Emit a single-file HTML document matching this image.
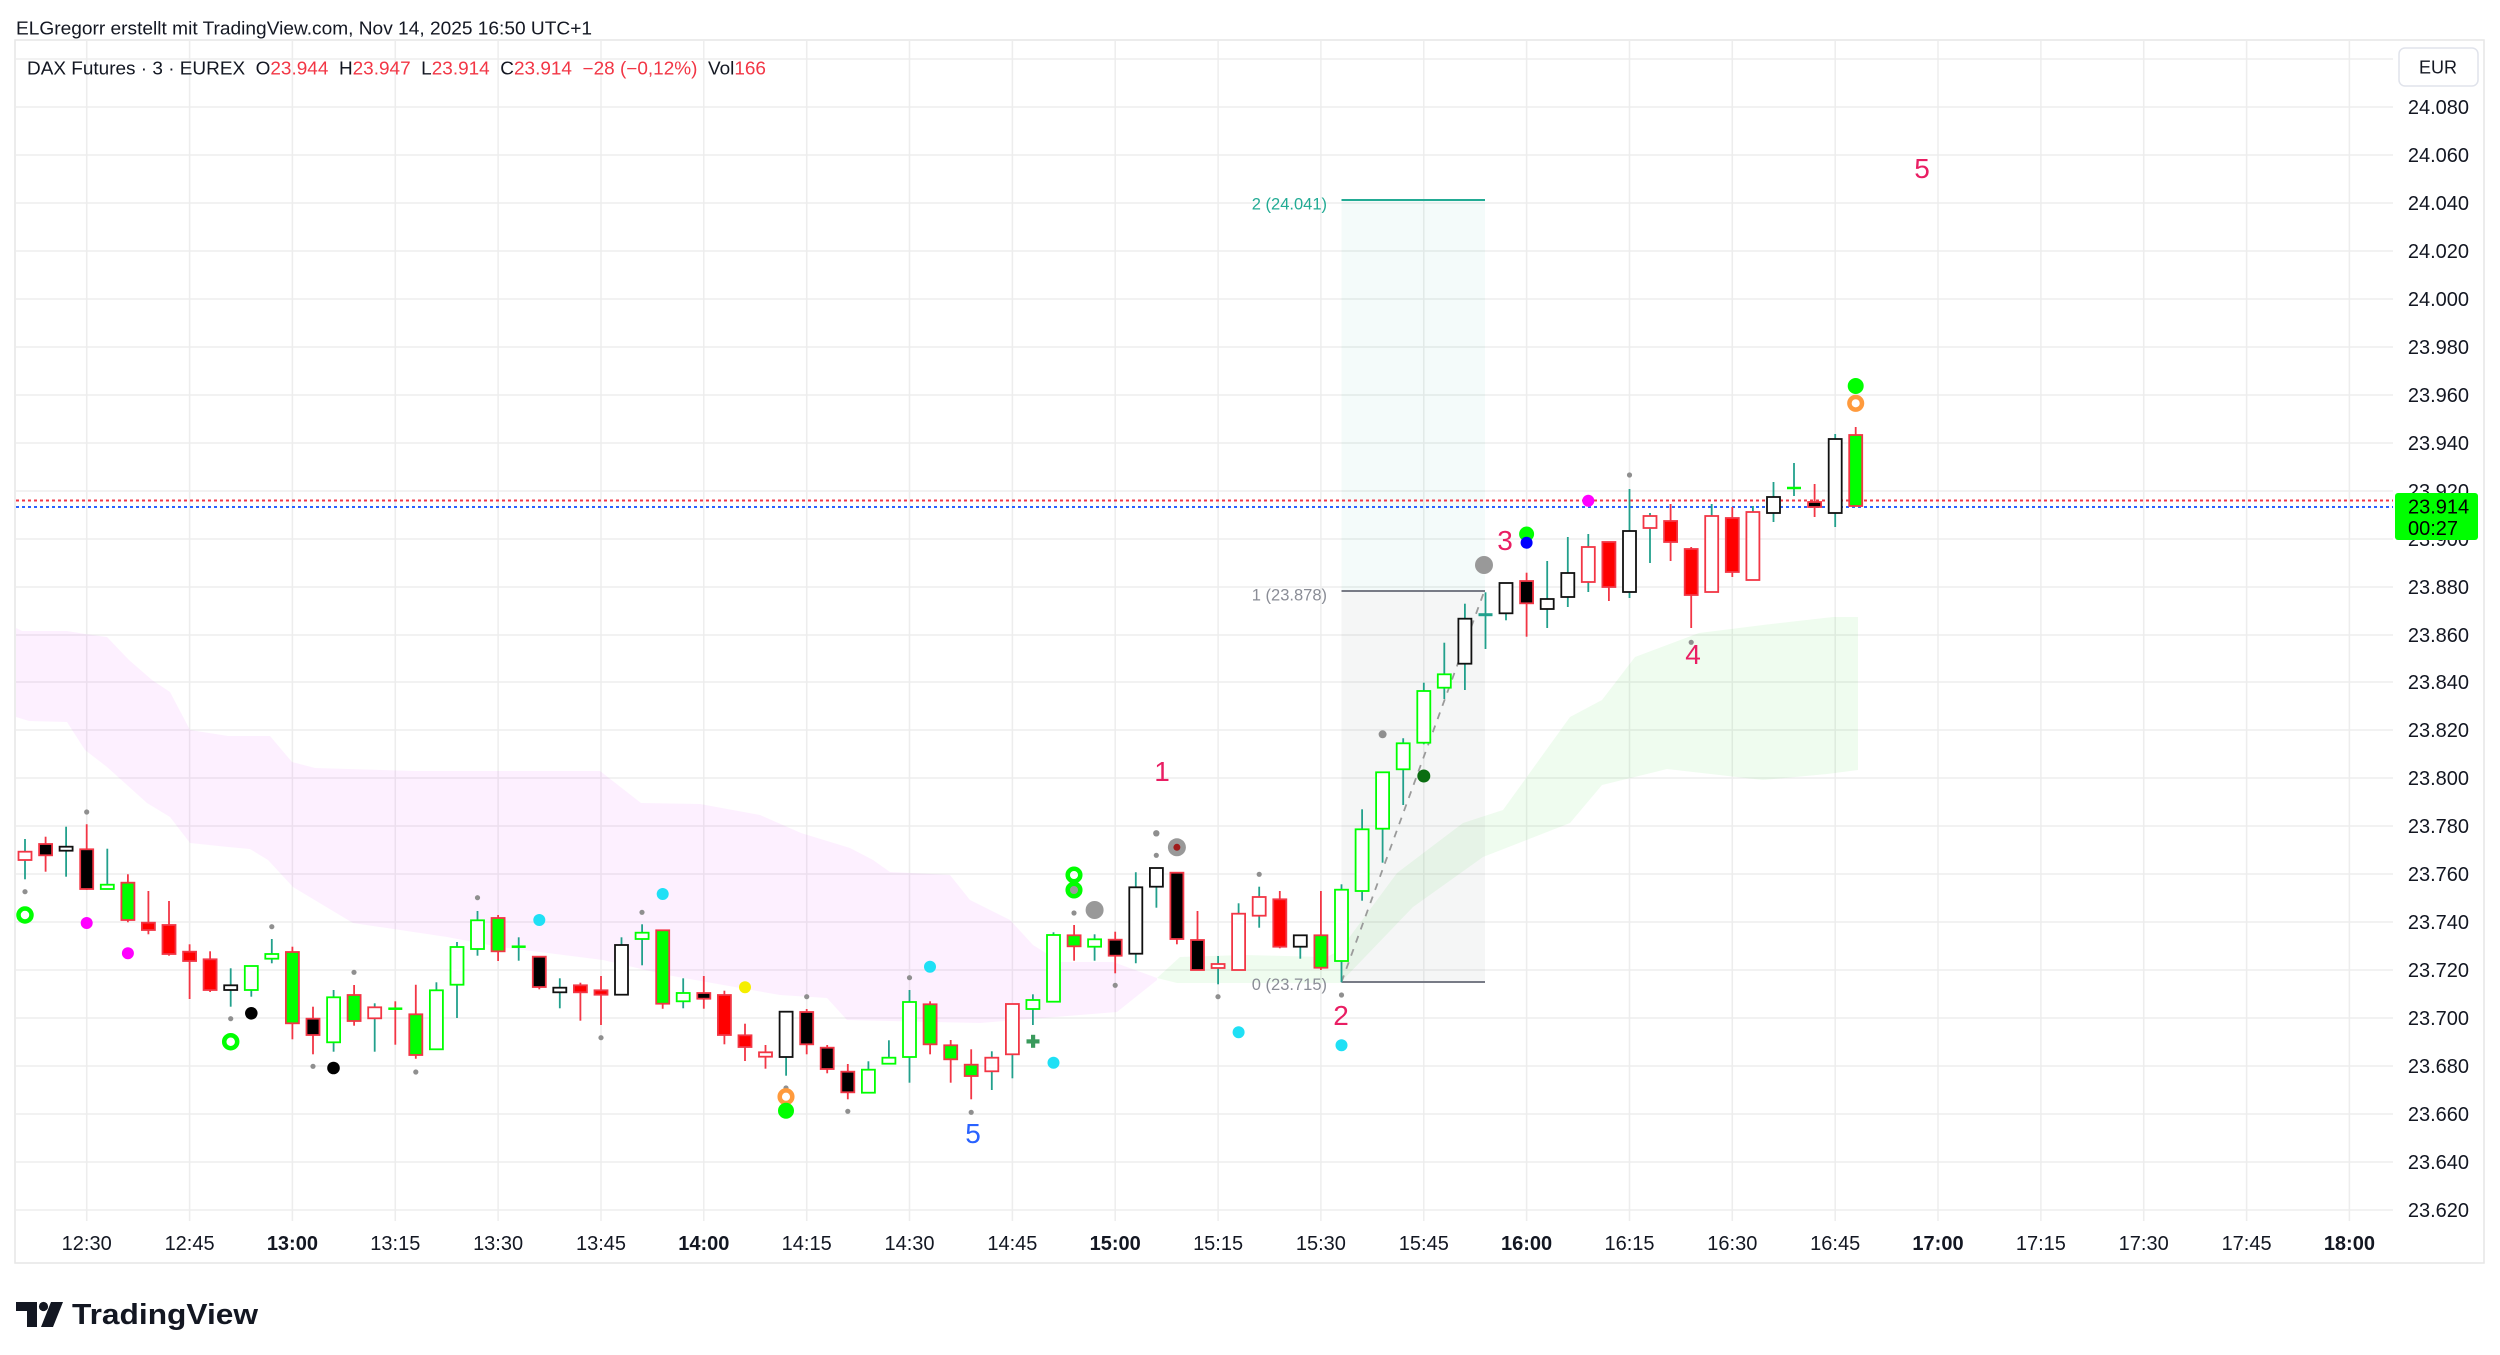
<!DOCTYPE html>
<html><head><meta charset="utf-8"><style>
html,body{margin:0;padding:0;background:#fff;overflow:hidden}
svg{display:block}
text{font-family:"Liberation Sans",Arial,sans-serif}
.g{stroke:#ededed;stroke-width:1.5}
.wt{stroke:#22a08c;stroke-width:1.8}
.wr{stroke:#f23645;stroke-width:1.8}
.wR{fill:#fff;stroke:#f23645;stroke-width:1.8}
.bR{fill:#000;stroke:#f23645;stroke-width:1.8}
.wK{fill:#fff;stroke:#111;stroke-width:1.8}
.gR{fill:#00ff00;stroke:#f23645;stroke-width:1.8}
.wG{fill:#fff;stroke:#00ff00;stroke-width:1.8}
.rR{fill:#ff0000;stroke:#f23645;stroke-width:1.8}
.dj{stroke:#00ff00;stroke-width:2.5}
.gd{fill:#8f8f8f}
.pl{fill:#131722;font-size:20px}
.tl{fill:#131722;font-size:20px;text-anchor:middle}
.tb{font-weight:bold}
.num{font-size:28px;fill:#e91e63;text-anchor:middle}
</style></head><body>
<svg width="2500" height="1355" viewBox="0 0 2500 1355" xmlns="http://www.w3.org/2000/svg">
<defs><clipPath id="pc"><rect x="16" y="41" width="2377" height="1180"/></clipPath></defs>
<rect width="2500" height="1355" fill="#fff"/>
<text x="16" y="34.5" font-size="18" fill="#131722" textLength="576" lengthAdjust="spacingAndGlyphs">ELGregorr erstellt mit TradingView.com, Nov 14, 2025 16:50 UTC+1</text>
<rect x="15" y="40" width="2469" height="1223" fill="none" stroke="#e6e6e6" stroke-width="1.5"/>

<!-- grid -->
<g class="g">
<line x1="16" x2="2393" y1="59" y2="59"/>
<line x1="16" x2="2393" y1="107" y2="107"/><line x1="16" x2="2393" y1="155" y2="155"/><line x1="16" x2="2393" y1="203" y2="203"/><line x1="16" x2="2393" y1="251" y2="251"/><line x1="16" x2="2393" y1="299" y2="299"/><line x1="16" x2="2393" y1="347" y2="347"/><line x1="16" x2="2393" y1="395" y2="395"/><line x1="16" x2="2393" y1="443" y2="443"/><line x1="16" x2="2393" y1="491" y2="491"/><line x1="16" x2="2393" y1="539" y2="539"/><line x1="16" x2="2393" y1="587" y2="587"/><line x1="16" x2="2393" y1="635" y2="635"/><line x1="16" x2="2393" y1="682" y2="682"/><line x1="16" x2="2393" y1="730" y2="730"/><line x1="16" x2="2393" y1="778" y2="778"/><line x1="16" x2="2393" y1="826" y2="826"/><line x1="16" x2="2393" y1="874" y2="874"/><line x1="16" x2="2393" y1="922" y2="922"/><line x1="16" x2="2393" y1="970" y2="970"/><line x1="16" x2="2393" y1="1018" y2="1018"/><line x1="16" x2="2393" y1="1066" y2="1066"/><line x1="16" x2="2393" y1="1114" y2="1114"/><line x1="16" x2="2393" y1="1162" y2="1162"/><line x1="16" x2="2393" y1="1210" y2="1210"/>
<line x1="86.7" x2="86.7" y1="41" y2="1221"/><line x1="189.6" x2="189.6" y1="41" y2="1221"/><line x1="292.4" x2="292.4" y1="41" y2="1221"/><line x1="395.3" x2="395.3" y1="41" y2="1221"/><line x1="498.1" x2="498.1" y1="41" y2="1221"/><line x1="601" x2="601" y1="41" y2="1221"/><line x1="703.8" x2="703.8" y1="41" y2="1221"/><line x1="806.7" x2="806.7" y1="41" y2="1221"/><line x1="909.5" x2="909.5" y1="41" y2="1221"/><line x1="1012.4" x2="1012.4" y1="41" y2="1221"/><line x1="1115.2" x2="1115.2" y1="41" y2="1221"/><line x1="1218.1" x2="1218.1" y1="41" y2="1221"/><line x1="1320.9" x2="1320.9" y1="41" y2="1221"/><line x1="1423.8" x2="1423.8" y1="41" y2="1221"/><line x1="1526.6" x2="1526.6" y1="41" y2="1221"/><line x1="1629.5" x2="1629.5" y1="41" y2="1221"/><line x1="1732.3" x2="1732.3" y1="41" y2="1221"/><line x1="1835.2" x2="1835.2" y1="41" y2="1221"/><line x1="1938" x2="1938" y1="41" y2="1221"/><line x1="2040.9" x2="2040.9" y1="41" y2="1221"/><line x1="2143.7" x2="2143.7" y1="41" y2="1221"/><line x1="2246.6" x2="2246.6" y1="41" y2="1221"/><line x1="2349.4" x2="2349.4" y1="41" y2="1221"/>
</g>

<g clip-path="url(#pc)">
<!-- clouds -->
<polygon fill="#e040fb" fill-opacity="0.08" points="16,628 22,631 67,631 85,634 107,637 129,660 152,680 170,692 190,730 228,736 270,736 292,762 315,768 415,771 600,771 641,803 700,804 760,815 801,833 850,848 873,860 890,872 950,875 970,900 1010,920 1033,945 1060,962 1113,962 1157,978 1157,980 1117,1012 980,1023 847,1020 827,998 780,995 667,975 603,960 500,947 447,937 353,923 293,887 268,860 250,849 228,847 190,843 170,817 147,803 107,767 85,750 67,722 29,721 16,717"/>
<polygon fill="#22dd22" fill-opacity="0.075" points="1157,978 1180,957 1243,955 1327,957 1340,950 1397,873 1463,823 1503,810 1570,717 1602,700 1635,657 1699,633 1763,625 1833,617 1858,617 1858,770 1827,774 1763,780 1667,769 1602,785 1570,823 1483,857 1413,907 1340,983 1177,983"/>
<!-- position box -->
<rect x="1341.5" y="200" width="143.5" height="391" fill="#22ab94" fill-opacity="0.05"/>
<rect x="1341.5" y="591" width="143.5" height="391" fill="#787b86" fill-opacity="0.07"/>
<line x1="1341.5" x2="1485" y1="200" y2="200" stroke="#22ab94" stroke-width="2"/>
<line x1="1341.5" x2="1485" y1="591" y2="591" stroke="#787b86" stroke-width="2"/>
<line x1="1341.5" x2="1485" y1="982" y2="982" stroke="#787b86" stroke-width="2"/>
<line x1="1341.5" y1="982" x2="1484" y2="592" stroke="#9a9a9a" stroke-width="1.8" stroke-dasharray="7 7"/>
<text x="1327" y="209.5" font-size="16.5" fill="#22ab94" text-anchor="end">2 (24.041)</text>
<text x="1327" y="600.5" font-size="16.5" fill="#8a8d96" text-anchor="end">1 (23.878)</text>
<text x="1327" y="990" font-size="16.5" fill="#8a8d96" text-anchor="end">0 (23.715)</text>

<!-- price lines -->
<line x1="16" x2="2393" y1="500.5" y2="500.5" stroke="#f23645" stroke-width="2" stroke-dasharray="3 3"/>
<line x1="16" x2="2393" y1="507" y2="507" stroke="#2962ff" stroke-width="2" stroke-dasharray="3 3"/>

<!-- wicks -->
<line class="wt" x1="25" x2="25" y1="839" y2="879.3"/>
<line class="wr" x1="45.6" x2="45.6" y1="836.7" y2="871.7"/>
<line class="wt" x1="66.1" x2="66.1" y1="826.7" y2="876.7"/>
<line class="wr" x1="86.7" x2="86.7" y1="824.3" y2="890"/>
<line class="wt" x1="107.3" x2="107.3" y1="848.7" y2="889"/>
<line class="wr" x1="127.9" x2="127.9" y1="874.3" y2="922.3"/>
<line class="wr" x1="148.4" x2="148.4" y1="891" y2="934.3"/>
<line class="wr" x1="169" x2="169" y1="901" y2="955.7"/>
<line class="wr" x1="189.6" x2="189.6" y1="944.3" y2="999"/>
<line class="wr" x1="210.1" x2="210.1" y1="951.3" y2="992"/>
<line class="wt" x1="230.7" x2="230.7" y1="968.3" y2="1006.7"/>
<line class="wt" x1="251.3" x2="251.3" y1="966" y2="996.7"/>
<line class="wt" x1="271.8" x2="271.8" y1="939" y2="963.3"/>
<line class="wr" x1="292.4" x2="292.4" y1="946.7" y2="1039.3"/>
<line class="wr" x1="313" x2="313" y1="1006.7" y2="1054.3"/>
<line class="wt" x1="333.6" x2="333.6" y1="990" y2="1051.7"/>
<line class="wr" x1="354.1" x2="354.1" y1="985" y2="1025.7"/>
<line class="wt" x1="374.7" x2="374.7" y1="1003.3" y2="1051.7"/>
<line class="wr" x1="395.3" x2="395.3" y1="1001.3" y2="1044.7"/>
<line class="wr" x1="415.8" x2="415.8" y1="984.7" y2="1058.7"/>
<line class="wt" x1="436.4" x2="436.4" y1="982.3" y2="1049.3"/>
<line class="wt" x1="457" x2="457" y1="942" y2="1018"/>
<line class="wt" x1="477.5" x2="477.5" y1="911" y2="955.7"/>
<line class="wr" x1="498.1" x2="498.1" y1="915" y2="961"/>
<line class="wt" x1="518.7" x2="518.7" y1="937.3" y2="960.7"/>
<line class="wr" x1="539.3" x2="539.3" y1="956.7" y2="989.3"/>
<line class="wt" x1="559.8" x2="559.8" y1="978.3" y2="1008.3"/>
<line class="wr" x1="580.4" x2="580.4" y1="982.7" y2="1020.7"/>
<line class="wr" x1="601" x2="601" y1="976" y2="1025"/>
<line class="wt" x1="621.5" x2="621.5" y1="937.3" y2="994.7"/>
<line class="wt" x1="642.1" x2="642.1" y1="924.3" y2="965.3"/>
<line class="wr" x1="662.7" x2="662.7" y1="930.3" y2="1008.7"/>
<line class="wt" x1="683.2" x2="683.2" y1="978.3" y2="1008.3"/>
<line class="wr" x1="703.8" x2="703.8" y1="976" y2="1008.7"/>
<line class="wr" x1="724.4" x2="724.4" y1="990.7" y2="1044.3"/>
<line class="wr" x1="745" x2="745" y1="1023.7" y2="1061"/>
<line class="wr" x1="765.5" x2="765.5" y1="1045" y2="1068.7"/>
<line class="wt" x1="786.1" x2="786.1" y1="1011.7" y2="1075.7"/>
<line class="wr" x1="806.7" x2="806.7" y1="1009" y2="1054.3"/>
<line class="wr" x1="827.2" x2="827.2" y1="1045" y2="1073.3"/>
<line class="wr" x1="847.8" x2="847.8" y1="1064" y2="1099.3"/>
<line class="wt" x1="868.4" x2="868.4" y1="1061.3" y2="1092.7"/>
<line class="wt" x1="888.9" x2="888.9" y1="1040.3" y2="1063.7"/>
<line class="wt" x1="909.5" x2="909.5" y1="990" y2="1082.7"/>
<line class="wr" x1="930.1" x2="930.1" y1="1001.3" y2="1054.3"/>
<line class="wr" x1="950.7" x2="950.7" y1="1040" y2="1082.7"/>
<line class="wr" x1="971.2" x2="971.2" y1="1049.3" y2="1099.3"/>
<line class="wt" x1="991.8" x2="991.8" y1="1051.3" y2="1090"/>
<line class="wt" x1="1012.4" x2="1012.4" y1="1004" y2="1078.3"/>
<line class="wt" x1="1032.9" x2="1032.9" y1="994.3" y2="1025"/>
<line class="wt" x1="1053.5" x2="1053.5" y1="932.3" y2="1001.7"/>
<line class="wr" x1="1074.1" x2="1074.1" y1="925" y2="960.7"/>
<line class="wt" x1="1094.6" x2="1094.6" y1="934.3" y2="960.7"/>
<line class="wr" x1="1115.2" x2="1115.2" y1="931.7" y2="973.3"/>
<line class="wt" x1="1135.8" x2="1135.8" y1="872.3" y2="963.3"/>
<line class="wt" x1="1156.4" x2="1156.4" y1="868" y2="907.7"/>
<line class="wr" x1="1176.9" x2="1176.9" y1="872.7" y2="944.3"/>
<line class="wr" x1="1197.5" x2="1197.5" y1="911" y2="970"/>
<line class="wt" x1="1218.1" x2="1218.1" y1="956" y2="984.3"/>
<line class="wt" x1="1238.6" x2="1238.6" y1="903.3" y2="970"/>
<line class="wt" x1="1259.2" x2="1259.2" y1="886.7" y2="927.7"/>
<line class="wr" x1="1279.8" x2="1279.8" y1="891" y2="948.3"/>
<line class="wt" x1="1300.3" x2="1300.3" y1="935.3" y2="958.7"/>
<line class="wr" x1="1320.9" x2="1320.9" y1="891" y2="970"/>
<line class="wt" x1="1341.5" x2="1341.5" y1="884.3" y2="982.3"/>
<line class="wt" x1="1362.1" x2="1362.1" y1="809.3" y2="900.7"/>
<line class="wt" x1="1382.6" x2="1382.6" y1="772.3" y2="862.7"/>
<line class="wt" x1="1403.2" x2="1403.2" y1="738.3" y2="805"/>
<line class="wt" x1="1423.8" x2="1423.8" y1="682.7" y2="744.3"/>
<line class="wt" x1="1444.3" x2="1444.3" y1="642.7" y2="699"/>
<line class="wt" x1="1464.9" x2="1464.9" y1="603.7" y2="690"/>
<line class="wt" x1="1485.5" x2="1485.5" y1="592.3" y2="649"/>
<line class="wt" x1="1506" x2="1506" y1="583" y2="620.3"/>
<line class="wr" x1="1526.6" x2="1526.6" y1="572.7" y2="636.7"/>
<line class="wt" x1="1547.2" x2="1547.2" y1="561" y2="628"/>
<line class="wt" x1="1567.8" x2="1567.8" y1="537" y2="607"/>
<line class="wt" x1="1588.3" x2="1588.3" y1="534" y2="592"/>
<line class="wr" x1="1608.9" x2="1608.9" y1="542" y2="601"/>
<line class="wt" x1="1629.5" x2="1629.5" y1="489" y2="598"/>
<line class="wt" x1="1650" x2="1650" y1="513" y2="563"/>
<line class="wr" x1="1670.6" x2="1670.6" y1="504" y2="561"/>
<line class="wr" x1="1691.2" x2="1691.2" y1="547" y2="628"/>
<line class="wt" x1="1711.7" x2="1711.7" y1="504" y2="592"/>
<line class="wr" x1="1732.3" x2="1732.3" y1="507" y2="577"/>
<line class="wt" x1="1752.9" x2="1752.9" y1="506" y2="580"/>
<line class="wt" x1="1773.5" x2="1773.5" y1="482" y2="522"/>
<line class="wt" x1="1794" x2="1794" y1="463" y2="496"/>
<line class="wr" x1="1814.6" x2="1814.6" y1="484" y2="517"/>
<line class="wt" x1="1835.2" x2="1835.2" y1="434" y2="527"/>
<line class="wr" x1="1855.7" x2="1855.7" y1="427" y2="506"/>

<!-- bodies -->
<rect class="wR" x="18.5" y="851.7" width="13" height="8.3"/>
<rect class="bR" x="39.1" y="844" width="13" height="11.3"/>
<rect class="wK" x="59.6" y="846.7" width="13" height="4"/>
<rect class="bR" x="80.2" y="849.3" width="13" height="39.7"/>
<rect class="wG" x="100.8" y="884.7" width="13" height="4.3"/>
<rect class="gR" x="121.4" y="882.7" width="13" height="37.3"/>
<rect class="rR" x="141.9" y="922.7" width="13" height="7.3"/>
<rect class="rR" x="162.5" y="925" width="13" height="29"/>
<rect class="rR" x="183.1" y="951.7" width="13" height="9.3"/>
<rect class="rR" x="203.6" y="959.3" width="13" height="30.7"/>
<rect class="wK" x="224.2" y="985.3" width="13" height="4.7"/>
<rect class="wG" x="244.8" y="966" width="13" height="24"/>
<rect class="wG" x="265.3" y="954" width="13" height="4.7"/>
<rect class="gR" x="285.9" y="952" width="13" height="71.3"/>
<rect class="bR" x="306.5" y="1018.7" width="13" height="16.3"/>
<rect class="wG" x="327.1" y="997.3" width="13" height="45"/>
<rect class="gR" x="347.6" y="995" width="13" height="26"/>
<rect class="wR" x="368.2" y="1007.3" width="13" height="11"/>
<line class="dj" x1="388.3" x2="402.3" y1="1008.7" y2="1008.7"/>
<rect class="gR" x="409.3" y="1014.3" width="13" height="40.7"/>
<rect class="wG" x="429.9" y="990.3" width="13" height="59"/>
<rect class="wG" x="450.5" y="947" width="13" height="37.7"/>
<rect class="wG" x="471" y="920.3" width="13" height="28.7"/>
<rect class="gR" x="491.6" y="918" width="13" height="33.3"/>
<line class="dj" x1="511.7" x2="525.7" y1="946.7" y2="946.7"/>
<rect class="bR" x="532.8" y="956.7" width="13" height="30.3"/>
<rect class="wK" x="553.3" y="987.7" width="13" height="4.6"/>
<rect class="rR" x="573.9" y="985.3" width="13" height="7"/>
<rect class="rR" x="594.5" y="990.3" width="13" height="4.4"/>
<rect class="wK" x="615" y="945" width="13" height="49.7"/>
<rect class="wG" x="635.6" y="932.7" width="13" height="6.3"/>
<rect class="gR" x="656.2" y="930.3" width="13" height="73.4"/>
<rect class="wG" x="676.7" y="993" width="13" height="8.3"/>
<rect class="bR" x="697.3" y="993" width="13" height="5.7"/>
<rect class="rR" x="717.9" y="995" width="13" height="40"/>
<rect class="rR" x="738.5" y="1035.3" width="13" height="11.7"/>
<rect class="wR" x="759" y="1052.3" width="13" height="4.4"/>
<rect class="wK" x="779.6" y="1011.7" width="13" height="45.3"/>
<rect class="bR" x="800.2" y="1012" width="13" height="32.3"/>
<rect class="bR" x="820.7" y="1047.7" width="13" height="21.3"/>
<rect class="bR" x="841.3" y="1071.7" width="13" height="20.6"/>
<rect class="wG" x="861.9" y="1069.7" width="13" height="23"/>
<rect class="wG" x="882.4" y="1057.7" width="13" height="6"/>
<rect class="wG" x="903" y="1002" width="13" height="55"/>
<rect class="gR" x="923.6" y="1004.3" width="13" height="40"/>
<rect class="gR" x="944.2" y="1045.3" width="13" height="14"/>
<rect class="gR" x="964.7" y="1064.7" width="13" height="11.3"/>
<rect class="wR" x="985.3" y="1057.7" width="13" height="13.6"/>
<rect class="wR" x="1005.9" y="1004" width="13" height="50.3"/>
<rect class="wG" x="1026.4" y="1000" width="13" height="9"/>
<rect class="wG" x="1047" y="935" width="13" height="66.7"/>
<rect class="gR" x="1067.6" y="935.3" width="13" height="11"/>
<rect class="wG" x="1088.1" y="939.3" width="13" height="7.4"/>
<rect class="bR" x="1108.7" y="939.7" width="13" height="16"/>
<rect class="wK" x="1129.3" y="887.3" width="13" height="66.4"/>
<rect class="wK" x="1149.9" y="868" width="13" height="18.7"/>
<rect class="bR" x="1170.4" y="872.7" width="13" height="66.3"/>
<rect class="bR" x="1191" y="940" width="13" height="30"/>
<rect class="wR" x="1211.6" y="964" width="13" height="4"/>
<rect class="wR" x="1232.1" y="913.7" width="13" height="56.3"/>
<rect class="wR" x="1252.7" y="897" width="13" height="18.7"/>
<rect class="rR" x="1273.3" y="899.3" width="13" height="47.4"/>
<rect class="wK" x="1293.8" y="935.3" width="13" height="11.4"/>
<rect class="gR" x="1314.4" y="935.3" width="13" height="32.4"/>
<rect class="wG" x="1335" y="889.7" width="13" height="71.3"/>
<rect class="wG" x="1355.6" y="829.3" width="13" height="61.7"/>
<rect class="wG" x="1376.1" y="772.3" width="13" height="56.4"/>
<rect class="wG" x="1396.7" y="743.3" width="13" height="26"/>
<rect class="wG" x="1417.3" y="691" width="13" height="51.7"/>
<rect class="wG" x="1437.8" y="674.3" width="13" height="13.4"/>
<rect class="wK" x="1458.4" y="618.7" width="13" height="45"/>
<line stroke="#22a08c" stroke-width="3" x1="1478.5" x2="1492.5" y1="614.7" y2="614.7"/>
<rect class="wK" x="1499.5" y="583" width="13" height="30.3"/>
<rect class="bR" x="1520.1" y="581" width="13" height="22.3"/>
<rect class="wK" x="1540.7" y="599" width="13" height="10"/>
<rect class="wK" x="1561.3" y="573" width="13" height="24"/>
<rect class="wR" x="1581.8" y="547" width="13" height="35"/>
<rect class="rR" x="1602.4" y="542" width="13" height="45"/>
<rect class="wK" x="1623" y="531" width="13" height="61"/>
<rect class="wR" x="1643.5" y="516" width="13" height="12"/>
<rect class="rR" x="1664.1" y="521" width="13" height="21"/>
<rect class="rR" x="1684.7" y="549" width="13" height="46"/>
<rect class="wR" x="1705.2" y="516" width="13" height="76"/>
<rect class="rR" x="1725.8" y="518" width="13" height="54"/>
<rect class="wR" x="1746.4" y="512" width="13" height="68"/>
<rect class="wK" x="1767" y="497" width="13" height="16"/>
<line class="dj" x1="1787" x2="1801" y1="488" y2="488"/>
<rect class="bR" x="1808.1" y="502" width="13" height="5"/>
<rect class="wK" x="1828.7" y="439" width="13" height="74"/>
<rect class="gR" x="1849.2" y="435" width="13" height="71"/>

<!-- small gray dots -->
<g class="gd">
<circle cx="25" cy="891.7" r="2.6"/><circle cx="86.7" cy="812" r="2.6"/><circle cx="230.7" cy="1018.7" r="2.6"/><circle cx="271.8" cy="926.7" r="2.6"/><circle cx="313" cy="1066.3" r="2.6"/><circle cx="354" cy="972.3" r="2.6"/><circle cx="415.8" cy="1072" r="2.6"/><circle cx="477.5" cy="897.7" r="2.6"/><circle cx="601" cy="1037.7" r="2.6"/><circle cx="642" cy="912.3" r="2.6"/><circle cx="786" cy="1088" r="2.6"/><circle cx="806.7" cy="996.7" r="2.6"/><circle cx="847.8" cy="1111.3" r="2.6"/><circle cx="909.5" cy="977.7" r="2.6"/><circle cx="971.2" cy="1112.3" r="2.6"/><circle cx="1074" cy="913" r="2.6"/><circle cx="1115.2" cy="985.3" r="2.6"/><circle cx="1156.3" cy="855.3" r="2.6"/><circle cx="1156.3" cy="833.3" r="3.2"/><circle cx="1218" cy="996.7" r="2.6"/><circle cx="1259.2" cy="874.3" r="2.6"/><circle cx="1341.5" cy="995" r="2.6"/><circle cx="1382.6" cy="734.3" r="4"/><circle cx="1629.5" cy="475" r="2.6"/><circle cx="1691.2" cy="642.3" r="2.6"/>
</g>
<!-- big gray -->
<circle cx="1094.6" cy="910" r="9" fill="#999"/>
<circle cx="1176.9" cy="847.3" r="9" fill="#999"/><circle cx="1176.9" cy="847.3" r="3.5" fill="#a01c1c"/>
<circle cx="1484" cy="565" r="9" fill="#999"/>
<!-- cyan -->
<g fill="#1fe0f5">
<circle cx="539.3" cy="920" r="6"/><circle cx="662.7" cy="894" r="6"/><circle cx="930" cy="966.7" r="6"/><circle cx="1053.5" cy="1062.7" r="6"/><circle cx="1238.6" cy="1032.3" r="6"/><circle cx="1341.5" cy="1045.3" r="6"/>
</g>
<!-- magenta -->
<g fill="#ff00ff"><circle cx="86.7" cy="923" r="6"/><circle cx="127.9" cy="953.3" r="6"/><circle cx="1588.3" cy="500.7" r="6"/></g>
<!-- black -->
<circle cx="251.3" cy="1013.3" r="6.3" fill="#000"/><circle cx="333.5" cy="1068" r="6.3" fill="#000"/>
<circle cx="745" cy="987.3" r="6" fill="#f5ee00"/>
<!-- rings -->
<g fill="none" stroke="#00ff00" stroke-width="4.5">
<circle cx="25" cy="915" r="6.5"/><circle cx="230.7" cy="1041.7" r="6.5"/><circle cx="1074" cy="875" r="6.3"/><circle cx="1074" cy="890" r="6.3" fill="#9a9a9a"/>
</g>
<g fill="none" stroke="#ff9a3c" stroke-width="4.5">
<circle cx="786" cy="1096.7" r="6.3"/><circle cx="1855.7" cy="403.3" r="6.3"/>
</g>
<g fill="#00ff00"><circle cx="786" cy="1110.7" r="8"/><circle cx="1855.7" cy="386" r="8"/><circle cx="1526.6" cy="534" r="7.5"/></g>
<circle cx="1526.6" cy="542.7" r="6" fill="#0000ff"/>
<circle cx="1423.8" cy="776" r="6.5" fill="#0b6e12"/>
<g fill="#3a9a5c"><rect x="1026.5" y="1039.3" width="13" height="4.2"/><rect x="1031" y="1034.8" width="4.2" height="13"/></g>

<!-- wave labels -->
<text class="num" x="1162" y="781">1</text>
<text class="num" x="1341" y="1025">2</text>
<text class="num" x="1505" y="550">3</text>
<text class="num" x="1693" y="664">4</text>
<text class="num" x="1922" y="178">5</text>
<text class="num" x="973" y="1143" style="fill:#2962ff">5</text>
</g>

<!-- legend -->
<text x="27" y="74.5" font-size="18" fill="#131722" style="white-space:pre" xml:space="preserve" textLength="739" lengthAdjust="spacingAndGlyphs">DAX Futures · 3 · EUREX  O<tspan fill="#f23645">23.944</tspan>  H<tspan fill="#f23645">23.947</tspan>  L<tspan fill="#f23645">23.914</tspan>  C<tspan fill="#f23645">23.914</tspan>  <tspan fill="#f23645">−28 (−0,12%)</tspan>  Vol<tspan fill="#f23645">166</tspan></text>

<!-- price axis -->
<rect x="2399" y="48" width="79" height="38" rx="6" fill="#fff" stroke="#e0e3eb" stroke-width="1.5"/>
<text x="2438" y="73.5" font-size="18" fill="#131722" text-anchor="middle">EUR</text>
<g class="pl" text-anchor="end">
<text x="2469" y="114">24.080</text><text x="2469" y="162">24.060</text><text x="2469" y="210">24.040</text><text x="2469" y="258">24.020</text><text x="2469" y="306">24.000</text><text x="2469" y="354">23.980</text><text x="2469" y="402">23.960</text><text x="2469" y="450">23.940</text><text x="2469" y="498">23.920</text><text x="2469" y="546">23.900</text><text x="2469" y="594">23.880</text><text x="2469" y="642">23.860</text><text x="2469" y="689">23.840</text><text x="2469" y="737">23.820</text><text x="2469" y="785">23.800</text><text x="2469" y="833">23.780</text><text x="2469" y="881">23.760</text><text x="2469" y="929">23.740</text><text x="2469" y="977">23.720</text><text x="2469" y="1025">23.700</text><text x="2469" y="1073">23.680</text><text x="2469" y="1121">23.660</text><text x="2469" y="1169">23.640</text><text x="2469" y="1217">23.620</text>
</g>
<rect x="2395" y="493" width="83" height="47" rx="3" fill="#00ff00"/>
<text x="2408" y="513.5" font-size="20" fill="#000">23.914</text>
<text x="2408" y="535" font-size="20" fill="#000">00:27</text>

<!-- time axis -->
<g class="tl">
<text x="86.7" y="1250">12:30</text><text x="189.6" y="1250">12:45</text><text x="292.4" y="1250" class="tb">13:00</text><text x="395.3" y="1250">13:15</text><text x="498.1" y="1250">13:30</text><text x="601" y="1250">13:45</text><text x="703.8" y="1250" class="tb">14:00</text><text x="806.7" y="1250">14:15</text><text x="909.5" y="1250">14:30</text><text x="1012.4" y="1250">14:45</text><text x="1115.2" y="1250" class="tb">15:00</text><text x="1218.1" y="1250">15:15</text><text x="1320.9" y="1250">15:30</text><text x="1423.8" y="1250">15:45</text><text x="1526.6" y="1250" class="tb">16:00</text><text x="1629.5" y="1250">16:15</text><text x="1732.3" y="1250">16:30</text><text x="1835.2" y="1250">16:45</text><text x="1938" y="1250" class="tb">17:00</text><text x="2040.9" y="1250">17:15</text><text x="2143.7" y="1250">17:30</text><text x="2246.6" y="1250">17:45</text><text x="2349.4" y="1250" class="tb">18:00</text>
</g>

<!-- logo -->
<g fill="#131722">
<path d="M16 1302 H37 V1327 H27 V1311 H16 Z"/>
<circle cx="43.5" cy="1306.5" r="4.6"/>
<path d="M51 1302 H63 L53 1327 H41 Z"/>
</g>
<text x="72" y="1324" font-size="29" font-weight="bold" fill="#131722" textLength="186" lengthAdjust="spacingAndGlyphs">TradingView</text>
</svg>
</body></html>
